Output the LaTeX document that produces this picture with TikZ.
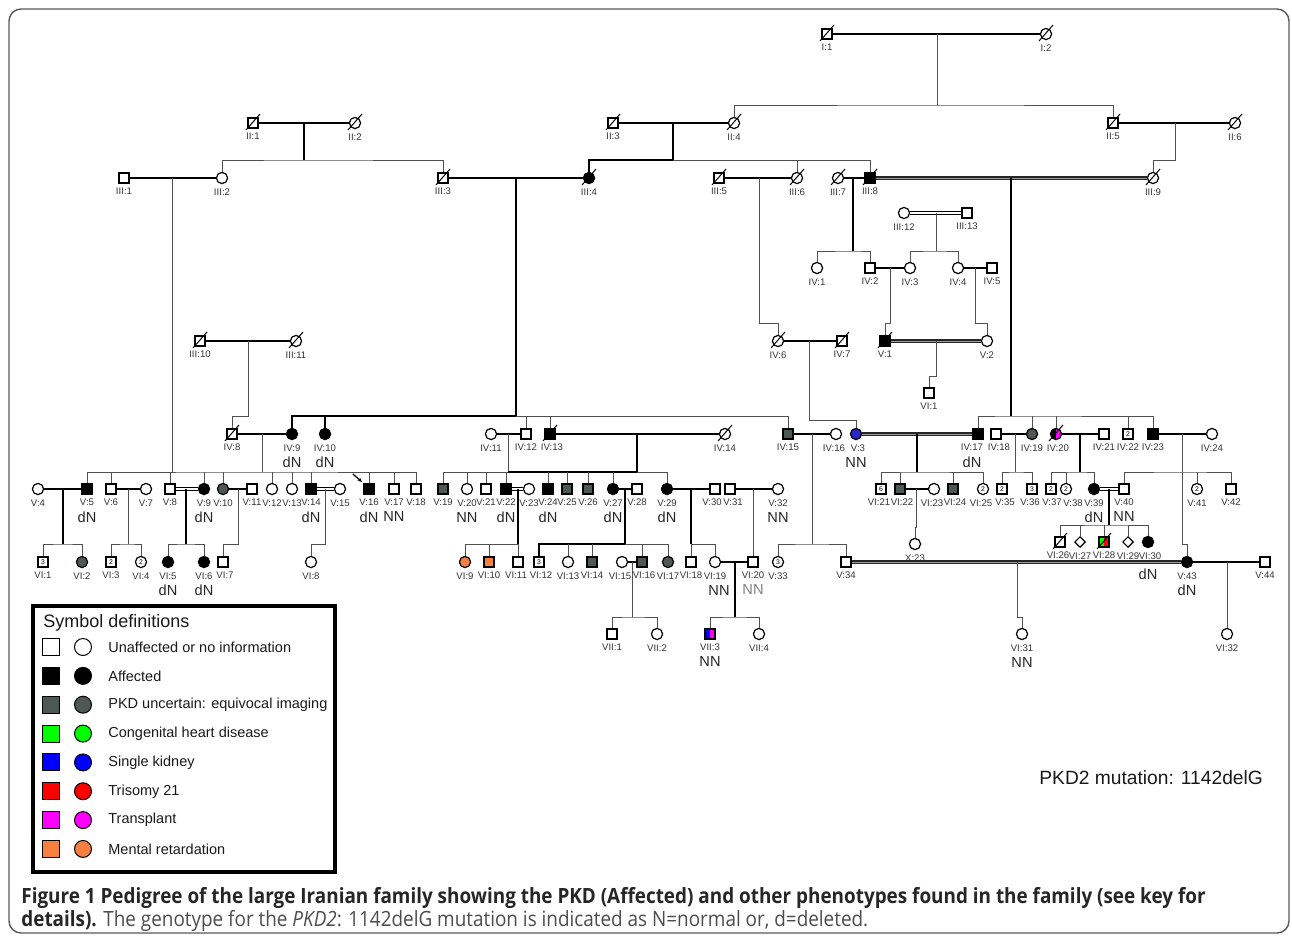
\documentclass[tikz,border=0pt]{standalone}
\usepackage{fontspec}
\setmainfont{Liberation Sans}
\newfontfamily\capfont[FakeStretch=0.9]{Open Sans}
\usetikzlibrary{shapes.geometric,arrows.meta}
\definecolor{pkdgray}{RGB}{77,87,84}
\definecolor{mrorange}{RGB}{245,128,66}
\definecolor{sblue}{RGB}{40,40,200}
\definecolor{kblue}{RGB}{0,0,255}
\definecolor{kgreen}{RGB}{0,255,0}
\definecolor{kred}{RGB}{255,0,0}
\definecolor{kmag}{RGB}{255,0,255}
\definecolor{lngray}{RGB}{80,80,80}
\tikzset{
  ind/.style={draw=black,line width=0.6pt,inner sep=0pt,fill=white,font=\fontsize{3.4}{3.4}\selectfont},
  male/.style={ind,rectangle,minimum size=5pt},
  fem/.style={ind,circle,minimum size=5.6pt},
  unk/.style={ind,diamond,minimum size=5.4pt},
  aff/.style={fill=black},
  unc/.style={fill=pkdgray},
  half/.style={path picture={\fill[#1] (path picture bounding box.south west) rectangle (path picture bounding box.north);}},
  lbl/.style={font=\fontsize{4.8}{4.8}\selectfont,text=black!80,inner sep=0pt,label distance=2pt},
  gtl/.style={font=\fontsize{7.3}{7.3}\selectfont,text=black!85,inner sep=0pt,label distance=8.3pt},
  lb/.style={label={[lbl]below:{#1}}},
  lbs/.style 2 args={label={[lbl,xshift=#1]below:{#2}}},
  gt/.style={label={[gtl]below:{#1}}},
  mar/.style={line width=0.8pt,black},
  desc/.style={line width=0.5pt,lngray},
  descb/.style={line width=1pt,black},
  cons/.style={draw=black,line width=0.4pt,double=white,double distance=0.9pt},
  consb/.style={draw=black!85,line width=0.9pt,double=black!40,double distance=0.5pt},
  slash/.style={line width=0.5pt,black},
  keysq/.style={draw=black,line width=0.5pt,minimum size=8.5pt,inner sep=0pt},
  keyci/.style={keysq,circle},
  keytx/.style={anchor=west,inner sep=0pt,font=\fontsize{7.25}{7.25}\selectfont,text=black!90},
}
\begin{document}
\begin{tikzpicture}[x=0.5pt,y=-0.5pt]
\useasboundingbox (0,0) rectangle (1292,943);
\draw[black!65,line width=0.7pt,rounded corners=6pt] (9,9) rectangle (1289,933);

% generation I and II
\node[male,lb={I:1}] (I1) at (827,34) {};
\node[fem,lb={I:2}] (I2) at (1046,34) {};
\node[male,lb={II:1}] (II1) at (253,123) {};
\node[fem,lb={II:2}] (II2) at (355,123) {};
\node[male,lb={II:3}] (II3) at (613,123) {};
\node[fem,lb={II:4}] (II4) at (734,123) {};
\node[male,lb={II:5}] (II5) at (1113,123) {};
\node[fem,lb={II:6}] (II6) at (1235,123) {};
% generation III
\node[male,lb={III:1}] (III1) at (124,178) {};
\node[fem,lb={III:2}] (III2) at (222,178) {};
\node[male,lb={III:3}] (III3) at (443,178) {};
\node[fem,aff,lb={III:4}] (III4) at (589,178) {};
\node[male,lb={III:5}] (III5) at (719,178) {};
\node[fem,lb={III:6}] (III6) at (797,178) {};
\node[fem,lb={III:7}] (III7) at (838,178) {};
\node[male,aff,lb={III:8}] (III8) at (870,178) {};
\node[fem,lb={III:9}] (III9) at (1153,178) {};
\node[fem,lb={III:12}] (III12) at (904,213) {};
\node[male,lb={III:13}] (III13) at (967,213) {};
\node[male,lb={III:10}] (III10) at (200,341) {};
\node[fem,lb={III:11}] (III11) at (296,341) {};
% upper right branch
\node[fem,lb={IV:1}] (IV1) at (817,268) {};
\node[male,lb={IV:2}] (IV2) at (870,268) {};
\node[fem,lb={IV:3}] (IV3) at (910,268) {};
\node[fem,lb={IV:4}] (IV4) at (958,268) {};
\node[male,lb={IV:5}] (IV5) at (992,268) {};
\node[fem,lb={IV:6}] (IV6) at (778,341) {};
\node[male,lb={IV:7}] (IV7) at (842,341) {};
\node[male,aff,lb={V:1}] (V1) at (885,341) {};
\node[fem,lb={V:2}] (V2) at (987,341) {};
\node[male,lb={VI:1}] (VI1r) at (929,393) {};
% row IV
\node[male,lb={IV:8}] (IV8) at (232,434) {};
\node[fem,aff,lb={IV:9},gt=dN] (IV9) at (292,434) {};
\node[fem,aff,lb={IV:10},gt=dN] (IV10) at (325,434) {};
\node[fem,lb={IV:11}] (IV11) at (491,434) {};
\node[male,lb={IV:12}] (IV12) at (526,434) {};
\node[male,aff,lbs={1pt}{IV:13}] (IV13) at (550,434) {};
\node[fem,lb={IV:14}] (IV14) at (725,434) {};
\node[male,unc,lb={IV:15}] (IV15) at (788,434) {};
\node[fem,lbs={-1pt}{IV:16}] (IV16) at (836,434) {};
\node[fem,fill=sblue,lbs={1pt}{V:3},gt=NN] (V3) at (856,434) {};
\node[male,aff,lbs={-3pt}{IV:17},label={[gtl,xshift=-3pt]below:{dN}}] (IV17) at (978,434) {};
\node[male,lbs={1.5pt}{IV:18}] (IV18) at (996,434) {};
\node[fem,unc,lb={IV:19}] (IV19) at (1032,434) {};
\node[fem,fill=kmag,half=black,lbs={1pt}{IV:20}] (IV20) at (1056,434) {};
\node[male,lb={IV:21}] (IV21) at (1104,434) {};
\node[male,lb={IV:22}] (IV22) at (1128,434) {2};
\node[male,aff,lb={IV:23}] (IV23) at (1153,434) {};
\node[fem,lb={IV:24}] (IV24) at (1212,434) {};
% row V
\node[fem,lb={V:4}] (V4) at (38,489) {};
\node[male,aff,lb={V:5},gt=dN] (V5) at (87,489) {};
\node[male,lb={V:6}] (V6) at (111,489) {};
\node[fem,lb={V:7}] (V7) at (146,489) {};
\node[male,lb={V:8}] (V8) at (170,489) {};
\node[fem,aff,lb={V:9},gt=dN] (V9) at (204,489) {};
\node[fem,unc,lb={V:10}] (V10) at (223,489) {};
\node[male,lb={V:11}] (V11) at (252,489) {};
\node[fem,lb={V:12}] (V12) at (272,489) {};
\node[fem,lb={V:13}] (V13) at (292,489) {};
\node[male,aff,lb={V:14},gt=dN] (V14) at (311,489) {};
\node[fem,lb={V:15}] (V15) at (340,489) {};
\node[male,aff,lb={V:16},gt=dN] (V16) at (369,489) {};
\node[male,lb={V:17},gt=NN] (V17) at (394,489) {};
\node[male,lb={V:18}] (V18) at (416,489) {};
\node[male,unc,lb={V:19}] (V19) at (443,489) {};
\node[fem,lb={V:20},gt=NN] (V20) at (467,489) {};
\node[male,lb={V:21}] (V21) at (486,489) {};
\node[male,aff,lb={V:22},gt=dN] (V22) at (506,489) {};
\node[fem,lb={V:23}] (V23) at (529,489) {};
\node[male,aff,lb={V:24},gt=dN] (V24) at (548,489) {};
\node[male,unc,lb={V:25}] (V25) at (567,489) {};
\node[male,unc,lb={V:26}] (V26) at (588,489) {};
\node[fem,aff,lb={V:27},gt=dN] (V27) at (613,489) {};
\node[male,lb={V:28}] (V28) at (637,489) {};
\node[fem,aff,lb={V:29},gt=dN] (V29) at (667,489) {};
\node[male,lbs={-1.5pt}{V:30}] (V30) at (715,489) {};
\node[male,lbs={1.5pt}{V:31}] (V31) at (730,489) {};
\node[fem,lb={V:32},gt=NN] (V32) at (778,489) {};
\node[male,lbs={-1pt}{VI:21}] (VI21) at (881,489) {6};
\node[male,unc,lbs={1pt}{VI:22}] (VI22) at (900,489) {};
\node[fem,lbs={-1pt}{VI:23}] (VI23) at (934,489) {};
\node[male,unc,lbs={1pt}{VI:24}] (VI24) at (953,489) {};
\node[fem,lbs={-1pt}{VI:25}] (VI25) at (983,489) {2};
\node[male,lbs={1.5pt}{V:35}] (V35) at (1002,489) {2};
\node[male,lbs={-1pt}{V:36}] (V36) at (1032,489) {3};
\node[male,lbs={0.5pt}{V:37}] (V37) at (1051,489) {2};
\node[fem,lbs={3.5pt}{V:38}] (V38) at (1066,489) {2};
\node[fem,aff,lb={V:39},gt=dN] (V39) at (1094,489) {};
\node[male,lb={V:40},gt=NN] (V40) at (1124,489) {};
\node[fem,lb={V:41}] (V41) at (1197,489) {2};
\node[male,lb={V:42}] (V42) at (1231,489) {};
% row VI
\node[male,lb={VI:1}] (VI1) at (43,562) {3};
\node[fem,unc,lb={VI:2}] (VI2) at (82,562) {};
\node[male,lb={VI:3}] (VI3) at (111,562) {2};
\node[fem,lb={VI:4}] (VI4) at (141,562) {2};
\node[fem,aff,lb={VI:5},gt=dN] (VI5) at (168,562) {};
\node[fem,aff,lb={VI:6},gt=dN] (VI6) at (204,562) {};
\node[male,lbs={1pt}{VI:7}] (VI7) at (223,562) {};
\node[fem,lb={VI:8}] (VI8) at (311,562) {};
\node[fem,fill=mrorange,lb={VI:9}] (VI9) at (465,562) {};
\node[male,fill=mrorange,lb={VI:10}] (VI10) at (489,562) {};
\node[male,lbs={-1pt}{VI:11}] (VI11) at (518,562) {};
\node[male,lbs={1pt}{VI:12}] (VI12) at (539,562) {3};
\node[fem,lb={VI:13}] (VI13) at (568,562) {};
\node[male,unc,lb={VI:14}] (VI14) at (592,562) {};
\node[fem,lbs={-1pt}{VI:15}] (VI15) at (622,562) {};
\node[male,unc,lbs={1pt}{VI:16}] (VI16) at (642,562) {};
\node[fem,unc,lb={VI:17}] (VI17) at (668,562) {};
\node[male,lb={VI:18}] (VI18) at (691,562) {};
\node[fem,lb={VI:19},label={[gtl,xshift=2pt]below:{NN}}] (VI19) at (715,562) {};
\node[male,lb={VI:20},label={[gtl,text=black!50]below:{NN}}] (VI20) at (753,562) {};
\node[fem,lb={V:33}] (V33) at (778,562) {3};
\node[male,lb={V:34}] (V34) at (846,562) {};
\node[fem,lb={X:23}] (X23) at (915,544) {};
\node[male,lbs={-1pt}{VI:26}] (VI26) at (1060,542) {};
\node[unk,lb={VI:27}] (VI27) at (1080,542) {};
\node[male,fill=kred,half=kgreen,lb={VI:28}] (VI28) at (1104,542) {};
\node[unk,lb={VI:29}] (VI29) at (1128,542) {};
\node[fem,aff,lbs={1pt}{VI:30},label={[gtl,label distance=10.3pt]below:{dN}}] (VI30) at (1148,542) {};
\node[fem,aff,lb={V:43},gt=dN] (V43) at (1187,562) {};
\node[male,lb={V:44}] (V44) at (1265,562) {};
% row VII
\node[male,lb={VII:1}] (VII1) at (612,634) {};
\node[fem,lb={VII:2}] (VII2) at (657,634) {};
\node[male,fill=kmag,half=kblue,lb={VII:3},gt=NN] (VII3) at (710,634) {};
\node[fem,lb={VII:4}] (VII4) at (759,634) {};
\node[fem,lb={VI:31},gt=NN] (VI31) at (1022,634) {};
\node[fem,lb={VI:32}] (VI32) at (1227,634) {};

% deceased
\foreach \n in {I1,I2,II1,II2,II3,II4,II5,II6,III3,III4,III5,III6,III7,III8,III9,III10,III11,IV6,IV7,IV8,IV13,IV14,IV20,V1,VI26,VI28}
  \draw[slash] (\n.center) ++(-7,7) -- ++(14,-16);
% proband
\draw[line width=0.6pt,-{Stealth[length=2.2pt,width=2pt]}] (V16.center) ++(-16,-15) -- ++(9,8);

% marriage and descent points
\coordinate (mI) at (937,34);     \coordinate (sI) at (937,105);
\coordinate (mII1) at (304,123);  \coordinate (sII1) at (304,160);
\coordinate (mII3) at (673,123);  \coordinate (sII3) at (673,160);
\coordinate (mII5) at (1175,123); \coordinate (sII5) at (1175,160);
\coordinate (mIII1) at (172,178); \coordinate (jV8) at (172,472);
\coordinate (mIII3) at (516,178); \coordinate (sIV) at (516,416);
\coordinate (mIII5) at (759,178); \coordinate (jIV6) at (759,323);
\coordinate (mIII7) at (853,178); \coordinate (sIVa) at (853,251);
\coordinate (mIII8) at (1011,178); \coordinate (sIVb) at (1011,416);
\coordinate (mIII10) at (248,341); \coordinate (jIV8) at (248,416);
\coordinate (mIII12) at (936,213); \coordinate (sIVc) at (936,251);
\coordinate (mIV2) at (890,268);  \coordinate (jV1) at (890,323);
\coordinate (mIV4) at (975,268);  \coordinate (jV2) at (975,323);
\coordinate (mIV6) at (809,341);  \coordinate (jV3) at (809,420);
\coordinate (mV1) at (936,341);   \coordinate (jVI1) at (936,376);
\coordinate (mIV8) at (262,434);  \coordinate (sV) at (262,472);
\coordinate (mIV11) at (508,434); \coordinate (sVa) at (508,472);
\coordinate (mIV13) at (637,434); \coordinate (sVb) at (637,472);
\coordinate (mIV15) at (812,434); \coordinate (sVc) at (812,544);
\coordinate (mV3) at (917,434);   \coordinate (sVd) at (917,472);
\coordinate (mIV18) at (1015,434); \coordinate (sVe) at (1015,472);
\coordinate (mIV20) at (1080,434); \coordinate (sVf) at (1080,472);
\coordinate (mIV23) at (1182,434); \coordinate (sVg) at (1182,472); \coordinate (jV43) at (1182,544);
\coordinate (mV4) at (63,489);    \coordinate (sVIa) at (63,544);
\coordinate (mV6) at (128,489);   \coordinate (sVIb) at (128,544);
\coordinate (mV8) at (186,489);   \coordinate (sVIc) at (186,544);
\coordinate (mV10) at (238,489);  \coordinate (jVI7) at (238,544);
\coordinate (mV14) at (325,489);  \coordinate (jVI8) at (325,544);
\coordinate (mV22) at (518,489);  \coordinate (sVId) at (518,544);
\coordinate (mV27) at (625,489);  \coordinate (sVIe) at (625,544);
\coordinate (mV29) at (691,489);  \coordinate (sVIf) at (691,544);
\coordinate (mV31) at (753,489);
\coordinate (mVI22) at (916,489); \coordinate (jX23) at (916,527);
\coordinate (mV39) at (1109,489); \coordinate (sVIg) at (1109,525);
\coordinate (mVI15) at (632,562); \coordinate (sVIIa) at (632,617);
\coordinate (mVI19) at (735,562); \coordinate (sVIIb) at (735,617);
\coordinate (mV34) at (1017,562); \coordinate (jVI31) at (1017,617);
\coordinate (mV43) at (1227,562);

% couples
\draw[mar] (I1) -- (I2);
\draw[mar] (II1) -- (II2);
\draw[mar] (II3) -- (II4);
\draw[mar] (II5) -- (II6);
\draw[mar] (III1) -- (III2);
\draw[mar] (III3) -- (III4);
\draw[mar] (III5) -- (III6);
\draw[mar] (III7) -- (III8);
\draw[consb] (III8) -- (III9);
\draw[mar] (III10) -- (III11);
\draw[cons] (III12) -- (III13);
\draw[mar] (IV2) -- (IV3);
\draw[mar] (IV4) -- (IV5);
\draw[mar] (IV6) -- (IV7);
\draw[consb] (V1) -- (V2);
\draw[mar] (IV8) -- (IV9);
\draw[mar] (IV11) -- (IV12);
\draw[mar] (IV13) -- (IV14);
\draw[mar] (IV15) -- (IV16);
\draw[consb] (V3) -- (IV17);
\draw[mar] (IV18) -- (IV19);
\draw[mar] (IV20) -- (IV21);
\draw[mar] (IV23) -- (IV24);
\draw[mar] (V4) -- (V5);
\draw[mar] (V6) -- (V7);
\draw[cons] (V8) -- (V9);
\draw[mar] (V10) -- (V11);
\draw[cons] (V14) -- (V15);
\draw[cons] (V22) -- (V23);
\draw[mar] (V27) -- (V28);
\draw[mar] (V29) -- (V30);
\draw[mar] (V31) -- (V32);
\draw[mar] (VI22) -- (VI23);
\draw[cons] (V39) -- (V40);
\draw[mar] (VI15) -- (VI16);
\draw[mar] (VI19) -- (VI20);
\draw[consb] (V34) -- (V43);
\draw[mar] (V43) -- (V44);

% lines of descent
\draw[desc] (mI) -- (sI);
\draw[desc] (II4) |- (sI) -| (II5);
\draw[descb] (mII1) -- (sII1);
\draw[desc] (III2) |- (sII1) -| (III3);
\draw[descb] (mII3) -- (sII3);
\draw[descb] (III4) |- (sII3);
\draw[desc] (sII3) -| (III8);
\draw[desc] (sII3 -| III6) -- (III6);
\draw[desc] (mII5) -- (sII5) -| (III9);
\draw[desc] (mIII1) -- (jV8);
\draw[descb] (mIII3) -- (sIV);
\draw[descb] (IV9) |- (sIV);
\draw[desc] (sIV) -| (IV15);
\draw[descb] (sIV -| IV10) -- (IV10);
\foreach \c in {IV12,IV13} \draw[desc] (sIV -| \c) -- (\c);
\draw[desc] (mIII5) -- (jIV6) -| (IV6);
\draw[descb] (mIII7) -- (sIVa);
\draw[desc] (IV1) |- (sIVa) -| (IV2);
\draw[descb] (mIII8) -- (sIVb);
\draw[desc] (IV17) |- (sIVb) -| (IV23);
\foreach \c in {IV19,IV20,IV22} \draw[desc] (sIVb -| \c) -- (\c);
\draw[desc] (mIII10) -- (jIV8) -| (IV8);
\draw[desc] (mIII12) -- (sIVc);
\draw[desc] (IV3) |- (sIVc) -| (IV4);
\draw[desc] (mIV2) -- (jV1) -| (V1);
\draw[desc] (mIV4) -- (jV2) -| (V2);
\draw[desc] (mIV6) -- (jV3) -| (V3);
\draw[desc] (mV1) -- (jVI1) -| (VI1r);
\draw[desc] (mIV8) -- (sV);
\draw[desc] (V5) |- (sV) -| (V18);
\foreach \c in {V6,V8,V9,V10,V12,V13,V14,V16,V17} \draw[desc] (sV -| \c) -- (\c);
\draw[desc] (mIV11) -- (sVa);
\draw[descb] (mIV13) -- (sVb);
\draw[desc] (V19) |- (sVa);
\draw[descb] (sVa) -- (sVb);
\draw[desc] (sVb) -| (V29);
\foreach \c in {V20,V21,V22,V24,V25,V26,V27} \draw[desc] (sVa -| \c) -- (\c);
\draw[desc] (mIV15) -- (sVc);
\draw[desc] (V33) |- (sVc) -| (V34);
\draw[descb] (mV3) -- (sVd);
\draw[desc] (VI21) |- (sVd) -| (VI25);
\foreach \c in {VI22,VI24} \draw[desc] (sVd -| \c) -- (\c);
\draw[desc] (mIV18) -- (sVe);
\draw[desc] (V35) |- (sVe) -| (V36);
\draw[descb] (mIV20) -- (sVf);
\draw[desc] (V37) |- (sVf) -| (V39);
\draw[desc] (sVf -| V38) -- (V38);
\draw[desc] (mIV23) -- (jV43) -| (V43);
\draw[desc] (V40) |- (sVg) -| (V42);
\draw[desc] (sVg -| V41) -- (V41);
\draw[descb] (mV4) -- (sVIa);
\draw[desc] (VI1) |- (sVIa) -| (VI2);
\draw[desc] (mV6) -- (sVIb);
\draw[desc] (VI3) |- (sVIb) -| (VI4);
\draw[descb] (mV8) -- (sVIc);
\draw[desc] (VI5) |- (sVIc) -| (VI6);
\draw[desc] (mV10) -- (jVI7) -| (VI7);
\draw[desc] (mV14) -- (jVI8) -| (VI8);
\draw[descb] (mV22) -- (sVId);
\draw[desc] (VI9) |- (sVId) -| (VI11);
\draw[desc] (sVId -| VI10) -- (VI10);
\draw[descb] (mV27) -- (sVIe);
\draw[descb] (VI12) |- (sVIe);
\draw[desc] (sVIe) -| (VI17);
\foreach \c in {VI13,VI14,VI16} \draw[desc] (sVIe -| \c) -- (\c);
\draw[descb] (mV29) -- (sVIf);
\draw[desc] (VI18) |- (sVIf) -| (VI19);
\draw[desc] (mV31) -- (VI20);
\draw[desc] (mVI22) -- (jX23) -| (X23);
\draw[descb] (mV39) -- (sVIg);
\draw[desc] (VI26) |- (sVIg) -| (VI30);
\foreach \c in {VI27,VI28,VI29} \draw[desc] (sVIg -| \c) -- (\c);
\draw[desc] (mVI15) -- (sVIIa);
\draw[desc] (VII1) |- (sVIIa) -| (VII2);
\draw[descb] (mVI19) -- (sVIIb);
\draw[desc] (VII3) |- (sVIIb) -| (VII4);
\draw[desc] (mV34) -- (jVI31) -| (VI31);
\draw[desc] (mV43) -- (VI32);

% key
\node[draw=black,line width=2pt,minimum width=151pt,minimum height=133pt,anchor=north west,inner sep=0pt] (key) at (31,604) {};
\node[anchor=west,inner sep=0pt,font=\fontsize{9}{9}\selectfont,text=black!90] (keytitle) at (43,623) {Symbol definitions};
\foreach \c/\t [count=\i from 0] in {white/Unaffected or no information,black/Affected,pkdgray/PKD uncertain: equivocal imaging,kgreen/Congenital heart disease,kblue/Single kidney,kred/Trisomy 21,kmag/Transplant,mrorange/Mental retardation}{
  \node[keysq,fill=\c] (ks\i) at (51,{647+28.85*\i}) {};
  \node[keyci,fill=\c] (kc\i) at (83,{647+28.85*\i}) {};
  \node[keytx] (kt\i) at (108,{647+28.85*\i}) {\t};
}
\node[anchor=west,inner sep=0pt,font=\fontsize{9.6}{9.6}\selectfont,text=black!90] (mutation) at (1039,778) {PKD2 mutation: 1142delG};

% caption
\node[anchor=base west,inner sep=0pt,text=black!85,font=\capfont\bfseries\fontsize{10.5}{12}\selectfont] (caption) at (21,903)
  {Figure 1 Pedigree of the large Iranian family showing the PKD (Affected) and other phenotypes found in the family (see key for};
\node[anchor=base west,inner sep=0pt,text=black!70,font=\capfont\fontsize{10.5}{12}\selectfont] (caption2) at (21,926)
  {\textbf{\color{black!85}details).} The genotype for the \textit{PKD2}: 1142delG mutation is indicated as N=normal or, d=deleted.};
\end{tikzpicture}
\end{document}
